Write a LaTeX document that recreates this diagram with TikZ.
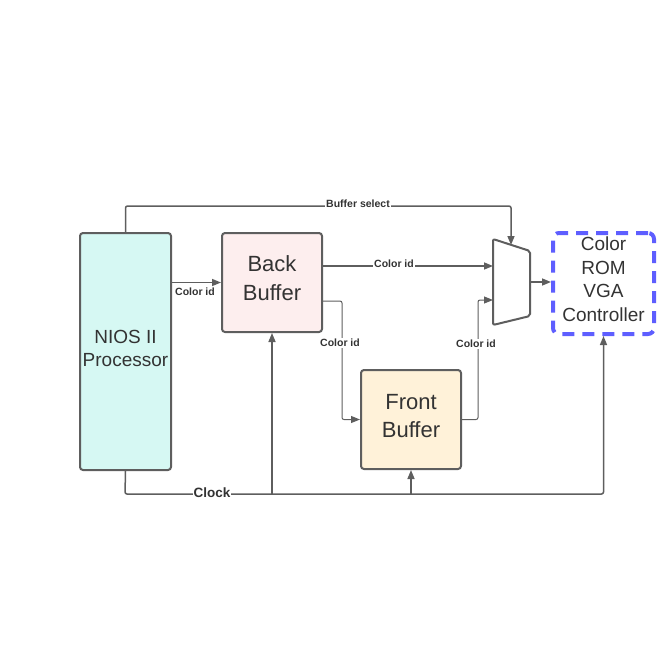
\documentclass[tikz,border=0pt]{standalone}
\usepackage{fontspec}
\setmainfont{Liberation Sans}
\usetikzlibrary{arrows.meta}
\definecolor{ln}{HTML}{5E5E5E}
\definecolor{tx}{HTML}{333333}
\definecolor{cyanf}{HTML}{D6F8F3}
\definecolor{pinkf}{HTML}{FDEEEE}
\definecolor{creamf}{HTML}{FFF2D9}
\definecolor{romc}{HTML}{5E5EFF}
\begin{document}
\begin{tikzpicture}[x=1pt,y=-1pt,
  blk/.style={draw=ln,line width=2pt,rounded corners=3pt,inner sep=0pt,anchor=north west},
  btxt/.style={inner sep=0pt,text=tx,align=center},
  conn/.style={draw=ln,line width=1.5pt,-{Triangle[length=9pt,width=7pt]},rounded corners=2pt},
  thinconn/.style={conn,line width=1pt},
  lbl/.style={fill=white,inner sep=1pt,text=tx,font=\fontsize{10.5}{12}\selectfont\bfseries},
  clk/.style={fill=white,inner sep=1pt,text=tx,font=\fontsize{13.5}{15}\selectfont\bfseries}]
\useasboundingbox (0,0) rectangle (670,670);

\node[blk,fill=cyanf,minimum width=91pt,minimum height=237pt] (nios) at (79,232) {};
\node[btxt,font=\fontsize{19}{23}\selectfont] (niost) at ([yshift=3pt]nios.center) {NIOS II\\Processor};
\node[blk,fill=pinkf,minimum width=100pt,minimum height=99pt] (back) at (221,232) {};
\node[btxt,font=\fontsize{22}{28.5}\selectfont] (backt) at ([yshift=4.5pt]back.center) {Back\\Buffer};
\node[blk,fill=creamf,minimum width=100pt,minimum height=99pt] (front) at (360,369) {};
\node[btxt,font=\fontsize{22}{28.5}\selectfont] (frontt) at ([yshift=3.5pt]front.center) {Front\\Buffer};
\node[blk,draw=romc,line width=4pt,dash pattern=on 12pt off 8pt,rounded corners=6pt,minimum width=101pt,minimum height=101pt] (rom) at (551,231) {};
\node[btxt,font=\fontsize{19}{23.5}\selectfont] (romt) at ([yshift=4.5pt]rom.center) {Color\\ROM\\VGA\\Controller};

% multiplexer
\draw[ln,line width=2pt,rounded corners=2pt,fill=white] (493,239) -- (530,251) -- (530,316) -- (493,325) -- cycle;
\coordinate (muxsel) at (511,245);
\coordinate (muxin1) at (493,266);
\coordinate (muxin2) at (493,300);
\coordinate (muxout) at (530,282);
\coordinate (clkc) at (125,494);

% Buffer select
\draw[conn] (nios.north) -- ++(0,-26) -| (muxsel);
\node[lbl] (bsel) at (358,204) {Buffer select};

% NIOS -> Back
\draw[conn] (nios.east |- back.west) -- (back.west);
\node[lbl] (c1) at (195,292) {Color id};

% Back -> mux
\draw[conn] (back.east |- muxin1) -- (muxin1);
\node[lbl] (c2) at (394,264) {Color id};

% Back -> Front
\draw[thinconn] ([yshift=-18.5pt]back.east) -- ++(19,0) |- (front.west);
\node[lbl] (c3) at (340,343) {Color id};

% Front -> mux
\draw[thinconn] (front.east) -- ++(16,0) |- (muxin2);
\node[lbl] (c4) at (476,344) {Color id};

% mux -> ROM
\draw[conn] (muxout) -- (rom.west |- muxout);

% Clock
\draw[conn] (nios.south) -- (clkc) -| (rom.south);
\draw[conn] (back.south |- clkc) -- (back.south);
\draw[conn] (front.south |- clkc) -- (front.south);
\node[clk] (clock) at (212,493) {Clock};
\end{tikzpicture}
\end{document}
